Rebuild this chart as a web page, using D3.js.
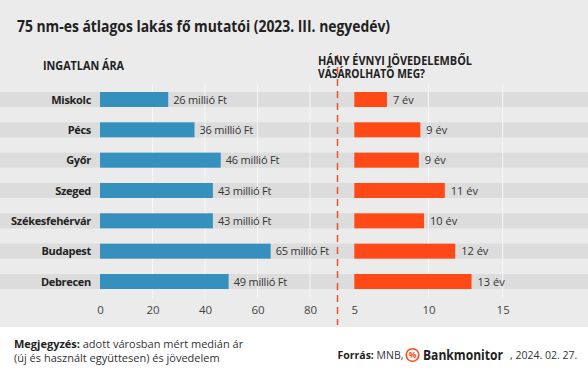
<!DOCTYPE html>
<html lang="hu">
<head>
  <meta charset="UTF-8">
  <title>75 nm-es átlagos lakás</title>
  <script src="https://d3js.org/d3.v7.min.js"></script>
  <style>
    body { margin: 0; background: #fff; }
    text { font-family: "Open Sans", sans-serif; }
  </style>
</head>
<body>
  <script>
    // chart data
    const cities = ["Miskolc", "Pécs", "Győr", "Szeged", "Székesfehérvár", "Budapest", "Debrecen"];
    const prices = [26, 36, 46, 43, 43, 65, 49];          // millió Ft
    const years = [7.2, 9.45, 9.35, 11.1, 9.7, 11.8, 12.9]; // évnyi jövedelem
    const yearLabels = [7, 9, 9, 11, 10, 12, 13];
    const priceTicks = [0, 20, 40, 60, 80];
    const yearTicks = [5, 10, 15];

    const width = 588;
    const height = 370;

    const svg = d3.select("body")
      .append("svg")
      .attr("width", width)
      .attr("height", height);

    // gray panel
    svg.append("rect")
      .attr("width", width)
      .attr("height", 327)
      .attr("fill", "#ebebeb");

    const y = d3.scalePoint().domain(cities).range([99.5, 281.5]);
    const xL = d3.scaleLinear().domain([0, 80]).range([100, 310]);
    const xR = d3.scaleLinear().domain([5, 15]).range([354.3, 502.7]);
    const barH = 15;

    // row stripes
    svg.selectAll("rect.stripe")
      .data(cities)
      .enter()
      .append("rect")
      .attr("class", "stripe")
      .attr("x", 0)
      .attr("width", width)
      .attr("y", d => y(d) - barH / 2)
      .attr("height", barH)
      .attr("fill", "#dcdcdc");

    // grid lines
    svg.selectAll("line.gl")
      .data(priceTicks.slice(1))
      .enter()
      .append("line")
      .attr("x1", d => xL(d)).attr("x2", d => xL(d))
      .attr("y1", 84).attr("y2", 298)
      .attr("stroke", "#f6f6f6");
    svg.selectAll("line.gr")
      .data(yearTicks.slice(1))
      .enter()
      .append("line")
      .attr("x1", d => xR(d)).attr("x2", d => xR(d))
      .attr("y1", 84).attr("y2", 298)
      .attr("stroke", "#f6f6f6");

    // bars left
    svg.selectAll("rect.bl")
      .data(prices)
      .enter()
      .append("rect")
      .attr("x", xL(0))
      .attr("y", (d, i) => y(cities[i]) - barH / 2)
      .attr("width", d => xL(d) - xL(0))
      .attr("height", barH)
      .attr("fill", "#3590bd");

    svg.selectAll("text.vl")
      .data(prices)
      .enter()
      .append("text")
      .attr("x", d => xL(d) + 5)
      .attr("y", (d, i) => y(cities[i]) + 4)
      .attr("font-size", 11)
      .attr("letter-spacing", -0.2)
      .attr("fill", "#333")
      .text(d => d + " millió Ft");

    // bars right
    svg.selectAll("rect.br")
      .data(years)
      .enter()
      .append("rect")
      .attr("x", xR(5))
      .attr("y", (d, i) => y(cities[i]) - barH / 2)
      .attr("width", d => xR(d) - xR(5))
      .attr("height", barH)
      .attr("fill", "#ff4a17");

    svg.selectAll("text.vr")
      .data(years)
      .enter()
      .append("text")
      .attr("x", d => xR(d) + 6)
      .attr("y", (d, i) => y(cities[i]) + 4)
      .attr("font-size", 11)
      .attr("fill", "#333")
      .text((d, i) => yearLabels[i] + " év");

    // city names
    svg.selectAll("text.city")
      .data(cities)
      .enter()
      .append("text")
      .attr("x", 91)
      .attr("y", d => y(d) + 4)
      .attr("text-anchor", "end")
      .attr("font-size", 11)
      .attr("letter-spacing", -0.3)
      .attr("font-weight", "bold")
      .attr("fill", "#222")
      .text(d => d);

    // axes
    const axisL = svg.append("g")
      .attr("transform", "translate(0,302)")
      .call(d3.axisBottom(xL).tickValues(priceTicks).tickSize(0).tickPadding(4));
    const axisR = svg.append("g")
      .attr("transform", "translate(0,302)")
      .call(d3.axisBottom(xR).tickValues(yearTicks).tickSize(0).tickPadding(4));
    [axisL, axisR].forEach(a => {
      a.select(".domain").remove();
      a.selectAll("text")
        .attr("font-family", "Open Sans, sans-serif")
        .attr("font-size", 11.5)
        .attr("fill", "#444");
    });

    // dashed divider
    svg.append("line")
      .attr("x1", 337.5).attr("x2", 337.5)
      .attr("y1", 55).attr("y2", 325)
      .attr("stroke", "#e8532a")
      .attr("stroke-width", 1.5)
      .attr("stroke-dasharray", "7,5");

    // titles
    svg.append("text")
      .attr("x", 17).attr("y", 32)
      .attr("font-size", 16)
      .attr("font-weight", "bold")
      .attr("fill", "#222")
      .attr("textLength", 373)
      .attr("lengthAdjust", "spacingAndGlyphs")
      .text("75 nm-es átlagos lakás fő mutatói (2023. III. negyedév)");

    svg.append("text")
      .attr("x", 43).attr("y", 70)
      .attr("font-size", 11.5)
      .attr("font-weight", "bold")
      .attr("fill", "#222")
      .attr("textLength", 81)
      .attr("lengthAdjust", "spacingAndGlyphs")
      .text("INGATLAN ÁRA");

    svg.append("g")
      .selectAll("text")
      .data(["HÁNY ÉVNYI JÖVEDELEMBŐL", "VÁSÁROLHATÓ MEG?"])
      .enter()
      .append("text")
      .attr("x", 318)
      .attr("y", (d, i) => 64.5 + i * 13.5)
      .attr("font-size", 11.5)
      .attr("font-weight", "bold")
      .attr("fill", "#222")
      .attr("textLength", (d, i) => i ? 107 : 154)
      .attr("lengthAdjust", "spacingAndGlyphs")
      .text(d => d);

    // footer note
    const note = svg.append("text")
      .attr("x", 14).attr("y", 348)
      .attr("font-size", 11)
      .attr("fill", "#333");
    note.append("tspan").attr("font-weight", "bold").attr("fill", "#222").text("Megjegyzés:");
    note.append("tspan").text(" adott városban mért medián ár");
    svg.append("text")
      .attr("x", 14).attr("y", 362)
      .attr("font-size", 11)
      .attr("fill", "#333")
      .text("(új és használt együttesen) és jövedelem");

    // source
    const src = svg.append("text")
      .attr("x", 337.5).attr("y", 359)
      .attr("font-size", 10.5)
      .attr("fill", "#333");
    src.append("tspan").attr("font-weight", "bold").attr("fill", "#222").text("Forrás:");
    src.append("tspan").text(" MNB,");

    svg.append("circle")
      .attr("cx", 412.5).attr("cy", 355)
      .attr("r", 6.3)
      .attr("fill", "#fff")
      .attr("stroke", "#ff4a17")
      .attr("stroke-width", 1.6);
    svg.append("text")
      .attr("x", 412.5).attr("y", 358.3)
      .attr("text-anchor", "middle")
      .attr("font-size", 8.5)
      .attr("font-weight", "bold")
      .attr("fill", "#ff4a17")
      .text("%");

    svg.append("text")
      .attr("x", 423).attr("y", 359.5)
      .attr("font-size", 14)
      .attr("font-weight", "bold")
      .attr("fill", "#222")
      .attr("textLength", 80)
      .attr("lengthAdjust", "spacingAndGlyphs")
      .text("Bankmonitor");
    svg.append("text")
      .attr("x", 510).attr("y", 359)
      .attr("font-size", 10.5)
      .attr("fill", "#333")
      .text(", 2024. 02. 27.");
  </script>
</body>
</html>
